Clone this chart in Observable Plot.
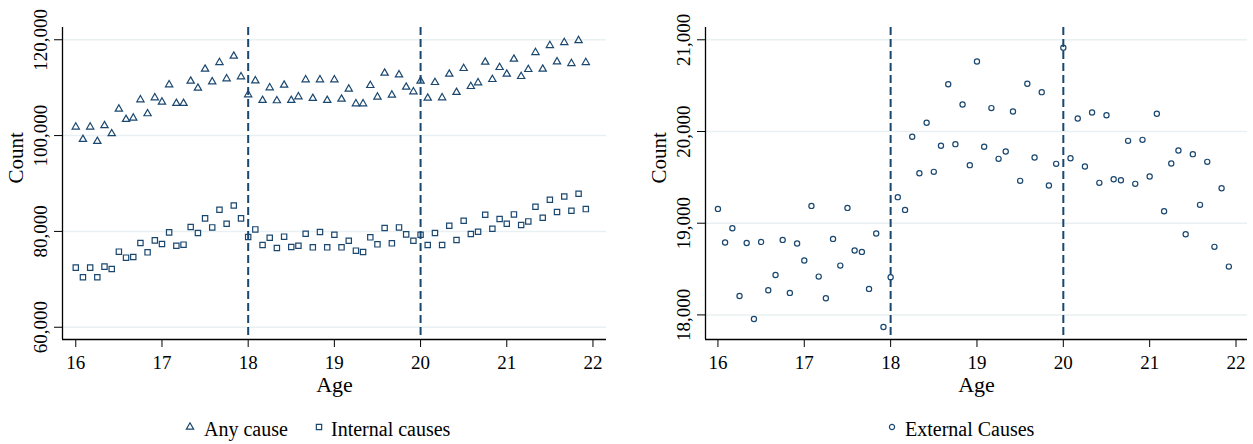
<!DOCTYPE html>
<html><head><meta charset="utf-8">
<script src="https://cdn.jsdelivr.net/npm/d3@7"></script>
<script src="https://cdn.jsdelivr.net/npm/@observablehq/plot@0.6"></script>
<style>
body{margin:0;background:#fff;}
#wrap{position:relative;width:1253px;height:444px;overflow:hidden;font-family:"Liberation Serif","Times New Roman",serif;color:#000;}
#wrap svg, #wrap svg text, #wrap svg g {font-family:"Liberation Serif","Times New Roman",serif !important;}
.panel{position:absolute;top:0;}
.lg{position:absolute;width:10px;height:10px;}
.lt{position:absolute;font-size:20px;line-height:20px;white-space:nowrap;}
</style></head>
<body><div id="wrap"></div>
<script>
const ages = [
 16.000,16.083,16.167,16.250,16.333,16.417,16.500,16.583,16.667,16.750,16.833,16.917,
 17.000,17.083,17.167,17.250,17.333,17.417,17.500,17.583,17.667,17.750,17.833,17.917,
 18.000,18.083,18.167,18.250,18.333,18.417,18.500,18.583,18.667,18.750,18.833,18.917,
 19.000,19.083,19.167,19.250,19.333,19.417,19.500,19.583,19.667,19.750,19.833,19.917,
 20.000,20.083,20.167,20.250,20.333,20.417,20.500,20.583,20.667,20.750,20.833,20.917,
 21.000,21.083,21.167,21.250,21.333,21.417,21.500,21.583,21.667,21.750,21.833,21.917];
const anyCause = [
 101800,99230,101800,98810,102080,100410,105550,103400,103670,107490,104580,107910,
 107010,110620,106730,106730,111380,109920,113880,111240,115270,111870,116590,112290,
 108530,111450,107350,109990,107290,110550,107350,108120,111660,107770,111660,107350,
 111660,107630,109720,106660,106660,110480,108050,113050,108470,112700,110130,109160,
 111380,107840,111100,107910,112840,109020,114020,110270,111040,115340,111730,114230,
 112840,115960,112350,113810,117350,113880,118810,115410,119440,115060,119850,115270];
const internalCauses = [
 72440,70420,72440,70420,72650,72160,75770,74520,74660,77580,75630,78130,
 77370,79800,77020,77230,80910,79660,82720,80840,84520,81600,85420,82720,
 78830,80420,77160,78690,76530,78900,76740,77020,79520,76670,79870,76670,
 79310,76670,78060,75980,75700,78760,77300,80700,77510,80840,79380,78060,
 79310,77160,79660,77160,81190,78200,82230,79450,79940,83480,80560,82580,
 81600,83550,81330,82090,85150,82850,86600,84040,87300,84310,87850,84660];
const externalCauses = [
 19156,18789,18945,18207,18785,17956,18796,18269,18436,18818,18240,18778,
 18593,19189,18418,18182,18829,18538,19167,18702,18687,18284,18887,17869,
 18411,19284,19145,19942,19545,20095,19560,19844,20516,19862,20295,19633,
 20764,19833,20255,19702,19782,20218,19462,20520,19716,20429,19411,19647,
 20913,19709,20142,19618,20207,19440,20178,19480,19469,19898,19429,19909,
 19509,20193,19131,19651,19793,18880,19753,19200,19669,18742,19382,18527];
const xTicks = [16,17,18,19,20,21,22];
const leftYTicks = [60000,80000,100000,120000];
const rightYTicks = [18000,19000,20000,21000];
const cutoffs = [18,20];
const labels = {x:"Age", y:"Count", any:"Any cause", internal:"Internal causes", external:"External Causes"};

const navy = "#1a476f";
const gridColor = "#e8f0f1";
const font = '"Liberation Serif", "Times New Roman", serif';

function rows(values){ return ages.map((a,i)=>({age:a, count:values[i]})); }

function panel({width, marginLeft, marginRight, xDomain, yDomain, yTicks, series}) {
  return Plot.plot({
    width, height: 400, marginLeft, marginRight, marginTop: 27, marginBottom: 61,
    style: {fontFamily: font, fontSize: "19px", color: "#000", background: "transparent", overflow: "visible"},
    x: {domain: xDomain},
    y: {domain: yDomain},
    marks: [
      Plot.gridY(yTicks, {stroke: gridColor, strokeOpacity: 1, strokeWidth: 1.5}),
      Plot.ruleX(cutoffs, {stroke: navy, strokeWidth: 2, strokeDasharray: "8,4"}),
      ...series.map(s => Plot.dot(rows(s.values), {x: "age", y: "count", symbol: s.symbol, r: s.r, stroke: navy, fill: "none", strokeWidth: 1.2})),
      Plot.ruleX([xDomain[0]], {stroke: "#000", strokeWidth: 1.3}),
      Plot.ruleY([yDomain[0]], {stroke: "#000", strokeWidth: 1.3}),
      Plot.axisX(xTicks, {tickSize: 8, tickPadding: 8, fontSize: 19, fontFamily: font, label: null, stroke: "#000"}),
      Plot.axisY(yTicks, {tickRotate: -90, tickSize: 8, tickPadding: 8, fontSize: 19, fontFamily: font, tickFormat: d3.format(","), label: null, stroke: "#000"}),
      Plot.text([labels.x], {frameAnchor: "bottom", dy: 52, lineAnchor: "bottom", fontSize: 22, fontFamily: font, fill: "#000"}),
      Plot.text([labels.y], {frameAnchor: "left", dx: -46, rotate: -90, lineAnchor: "middle", fontSize: 21, fontFamily: font, fill: "#000"})
    ]
  });
}

const wrap = document.getElementById("wrap");
const left = panel({width: 626, marginLeft: 62, marginRight: 20, xDomain: [15.846, 22.157], yDomain: [57440, 122560], yTicks: leftYTicks,
  series: [{values: anyCause, symbol: "triangle", r: 2.7}, {values: internalCauses, symbol: "square", r: 3.0}]});
left.classList.add("panel"); left.style.left = "0px";
wrap.appendChild(left);
const right = panel({width: 627, marginLeft: 79, marginRight: 6, xDomain: [15.856, 22.133], yDomain: [17732, 21134], yTicks: rightYTicks,
  series: [{values: externalCauses, symbol: "circle", r: 2.6}]});
right.classList.add("panel"); right.style.left = "626px";
wrap.appendChild(right);

function legendItem(symbolType, r, symLeft, textLeft, text) {
  const s = d3.create("svg").attr("class", "lg").attr("width", 10).attr("height", 10)
    .style("left", symLeft + "px").style("top", "422px");
  s.append("path").attr("transform", "translate(5,5)")
    .attr("d", d3.symbol(symbolType, Math.PI * r * r)())
    .attr("fill", "none").attr("stroke", navy).attr("stroke-width", 1.2);
  wrap.appendChild(s.node());
  const t = document.createElement("div");
  t.className = "lt"; t.textContent = text;
  t.style.left = textLeft + "px"; t.style.top = "419px";
  wrap.appendChild(t);
}
legendItem(d3.symbolTriangle, 2.7, 185, 204, labels.any);
legendItem(d3.symbolSquare, 3.0, 314, 331, labels.internal);
legendItem(d3.symbolCircle, 2.6, 887, 905, labels.external);
</script>
</body></html>
